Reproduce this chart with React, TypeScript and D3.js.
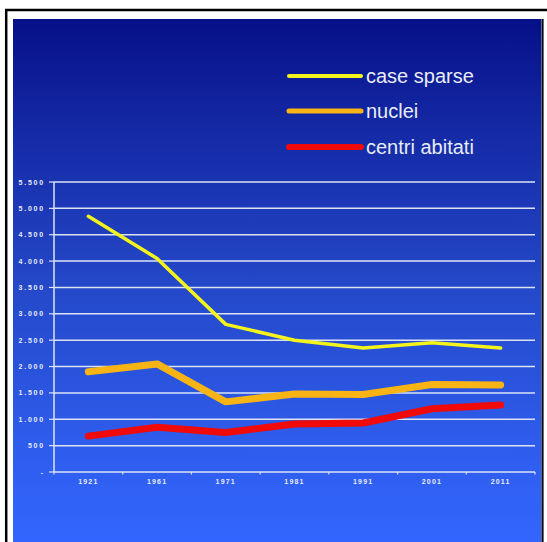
import React from "react";
import * as d3 from "d3";

const years = ["1921", "1961", "1971", "1981", "1991", "2001", "2011"];
const caseSparse = [4850, 4050, 2800, 2500, 2350, 2450, 2350];
const nuclei = [1900, 2050, 1330, 1480, 1470, 1660, 1650];
const centriAbitati = [680, 850, 750, 910, 930, 1200, 1270];
const yTicks = [0, 500, 1000, 1500, 2000, 2500, 3000, 3500, 4000, 4500, 5000, 5500];
const seriesNames = ["case sparse", "nuclei", "centri abitati"];

const fmt = (v: number) => (v === 0 ? "-" : d3.format(",")(v).replace(/,/g, "."));

export default function App() {
  const W = 547;
  const H = 542;
  const left = 54;
  const right = 535;
  const top = 182;
  const bottom = 472;

  const x = d3.scaleBand<string>().domain(years).range([left, right]);
  const y = d3.scaleLinear().domain([0, 5500]).range([bottom, top]);

  const line = d3
    .line<number>()
    .x((_, i) => (x(years[i]) as number) + x.bandwidth() / 2)
    .y((d) => y(d));

  const series = [
    { name: seriesNames[0], data: caseSparse, color: "#f4f41c", w: 3.5, lw: 4 },
    { name: seriesNames[1], data: nuclei, color: "#f8b414", w: 7, lw: 5 },
    { name: seriesNames[2], data: centriAbitati, color: "#f00a0a", w: 7, lw: 6 },
  ];

  const legendY = [76, 111, 147];

  return (
    <svg
      width={W}
      height={H}
      style={{ position: "absolute", left: 0, top: 0, background: "#fff" }}
      fontFamily="'Liberation Sans', Arial, sans-serif"
    >
      <defs>
        <linearGradient id="bg" x1="0" y1="0" x2="0" y2="1">
          <stop offset="0" stopColor="#061088" />
          <stop offset="0.2" stopColor="#1428a4" />
          <stop offset="0.5" stopColor="#2448c8" />
          <stop offset="0.8" stopColor="#2e5cec" />
          <stop offset="1" stopColor="#3366ff" />
        </linearGradient>
      </defs>
      {/* frame */}
      <line x1={5} x2={W} y1={10} y2={10} stroke="#000" strokeWidth={2.5} />
      <line x1={6.2} x2={6.2} y1={9} y2={H} stroke="#000" strokeWidth={2.5} />
      <rect x={13} y={19} width={528} height={530} fill="url(#bg)" />
      <line x1={542.5} y1={19} x2={542.5} y2={H} stroke="#080818" strokeWidth={2.2} />

      {/* gridlines */}
      {yTicks.map((t) => (
        <g key={t}>
          <line x1={left} x2={right} y1={y(t)} y2={y(t)} stroke="#dce4f4" strokeWidth={1.5} />
          <line x1={left - 5} x2={left} y1={y(t)} y2={y(t)} stroke="#dce4f4" strokeWidth={1.2} />
          <text
            x={left - 9}
            y={y(t) + 2.5}
            textAnchor="end"
            fontSize={7}
            letterSpacing={1.8}
            fill="#e8ecf8"
            fontWeight="bold"
          >
            {fmt(t)}
          </text>
        </g>
      ))}
      {/* y axis */}
      <line x1={left} x2={left} y1={top} y2={bottom} stroke="#dce4f4" strokeWidth={1.5} />
      {/* x ticks */}
      {[...years.map((yr) => x(yr) as number), right].map((px, i) => (
        <line key={i} x1={px} x2={px} y1={bottom} y2={bottom + 2.5} stroke="#dce4f4" strokeWidth={1.2} />
      ))}
      {years.map((yr) => (
        <text
          key={yr}
          x={(x(yr) as number) + x.bandwidth() / 2}
          y={bottom + 12}
          textAnchor="middle"
          fontSize={7}
          letterSpacing={1.2}
          fill="#e8ecf8"
          fontWeight="bold"
        >
          {yr}
        </text>
      ))}

      {/* lines */}
      {series.map((s) => (
        <path
          key={s.name}
          d={line(s.data) as string}
          fill="none"
          stroke={s.color}
          strokeWidth={s.w}
          strokeLinejoin="round"
          strokeLinecap="round"
        />
      ))}

      {/* legend */}
      {series.map((s, i) => (
        <g key={s.name}>
          <line
            x1={289}
            x2={361}
            y1={legendY[i]}
            y2={legendY[i]}
            stroke={s.color}
            strokeWidth={s.lw}
            strokeLinecap="round"
          />
          <text x={366} y={legendY[i] + 7} fontSize={20} fill="#e8ecf4">
            {s.name}
          </text>
        </g>
      ))}
    </svg>
  );
}
